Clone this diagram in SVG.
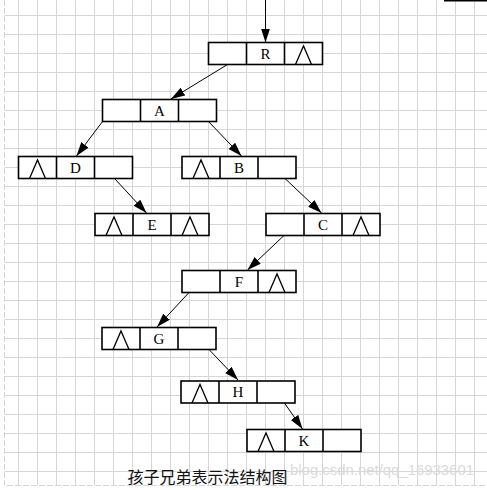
<svg xmlns="http://www.w3.org/2000/svg" width="487" height="490" viewBox="0 0 487 490">
<style>
.grid line{stroke:#d6d6d6;stroke-width:1}
.border{stroke:#d6d6d6;stroke-width:1;stroke-dasharray:6 2;fill:none}
.box rect{fill:#fff;stroke:#000;stroke-width:1.6}
.box line{stroke:#000;stroke-width:1.6}
.box .nil{fill:none;stroke:#000;stroke-width:1.3}
.box text{font-family:"Liberation Serif","DejaVu Serif",serif;font-size:15px;fill:#000;text-anchor:middle}
.edges line{stroke:#000;stroke-width:1;marker-end:url(#arr)}
.caption{font-family:"Noto Sans CJK SC","Noto Sans",sans-serif;font-size:16px;fill:#111}
.wm{font-family:"Liberation Sans",Arial,sans-serif;font-size:15px;fill:#dadada}
</style>
<defs>
<marker id="arr" markerUnits="userSpaceOnUse" markerWidth="16" markerHeight="10" refX="14" refY="4.5" orient="auto">
<path d="M0,0 L14,4.5 L0,9 Z" fill="#000"/>
</marker>
</defs>
<rect width="487" height="490" fill="#fff"/>
<g class="grid">
<line x1="18.5" y1="0" x2="18.5" y2="485"/><line x1="37.5" y1="0" x2="37.5" y2="485"/><line x1="56.5" y1="0" x2="56.5" y2="485"/><line x1="75.5" y1="0" x2="75.5" y2="485"/><line x1="94.5" y1="0" x2="94.5" y2="485"/><line x1="113.5" y1="0" x2="113.5" y2="485"/><line x1="132.5" y1="0" x2="132.5" y2="485"/><line x1="151.5" y1="0" x2="151.5" y2="485"/><line x1="170.5" y1="0" x2="170.5" y2="485"/><line x1="189.5" y1="0" x2="189.5" y2="485"/><line x1="208.5" y1="0" x2="208.5" y2="485"/><line x1="227.5" y1="0" x2="227.5" y2="485"/><line x1="246.5" y1="0" x2="246.5" y2="485"/><line x1="265.5" y1="0" x2="265.5" y2="485"/><line x1="284.5" y1="0" x2="284.5" y2="485"/><line x1="303.5" y1="0" x2="303.5" y2="485"/><line x1="322.5" y1="0" x2="322.5" y2="485"/><line x1="341.5" y1="0" x2="341.5" y2="485"/><line x1="360.5" y1="0" x2="360.5" y2="485"/><line x1="379.5" y1="0" x2="379.5" y2="485"/><line x1="398.5" y1="0" x2="398.5" y2="485"/><line x1="417.5" y1="0" x2="417.5" y2="485"/><line x1="436.5" y1="0" x2="436.5" y2="485"/><line x1="455.5" y1="0" x2="455.5" y2="485"/><line x1="474.5" y1="0" x2="474.5" y2="485"/>
<line x1="4.5" y1="15.5" x2="487" y2="15.5"/><line x1="4.5" y1="34.5" x2="487" y2="34.5"/><line x1="4.5" y1="53.5" x2="487" y2="53.5"/><line x1="4.5" y1="72.5" x2="487" y2="72.5"/><line x1="4.5" y1="91.5" x2="487" y2="91.5"/><line x1="4.5" y1="110.5" x2="487" y2="110.5"/><line x1="4.5" y1="129.5" x2="487" y2="129.5"/><line x1="4.5" y1="148.5" x2="487" y2="148.5"/><line x1="4.5" y1="167.5" x2="487" y2="167.5"/><line x1="4.5" y1="186.5" x2="487" y2="186.5"/><line x1="4.5" y1="205.5" x2="487" y2="205.5"/><line x1="4.5" y1="224.5" x2="487" y2="224.5"/><line x1="4.5" y1="243.5" x2="487" y2="243.5"/><line x1="4.5" y1="262.5" x2="487" y2="262.5"/><line x1="4.5" y1="281.5" x2="487" y2="281.5"/><line x1="4.5" y1="300.5" x2="487" y2="300.5"/><line x1="4.5" y1="319.5" x2="487" y2="319.5"/><line x1="4.5" y1="338.5" x2="487" y2="338.5"/><line x1="4.5" y1="357.5" x2="487" y2="357.5"/><line x1="4.5" y1="376.5" x2="487" y2="376.5"/><line x1="4.5" y1="395.5" x2="487" y2="395.5"/><line x1="4.5" y1="414.5" x2="487" y2="414.5"/><line x1="4.5" y1="433.5" x2="487" y2="433.5"/><line x1="4.5" y1="452.5" x2="487" y2="452.5"/><line x1="4.5" y1="471.5" x2="487" y2="471.5"/>
</g>
<path class="border" d="M4.5,0 V485.5 H487"/>
<line x1="444" y1="0.75" x2="487" y2="0.75" stroke="#000" stroke-width="1.5"/>

<g class="edges">
<line x1="265.5" y1="0" x2="265.5" y2="42.5"/>
<line x1="227.5" y1="64.5" x2="171" y2="99"/>
<line x1="102.5" y1="121.5" x2="76.5" y2="156"/>
<line x1="208.5" y1="121.5" x2="241.5" y2="156"/>
<line x1="114.5" y1="178.5" x2="146.5" y2="213"/>
<line x1="285" y1="178.5" x2="321.5" y2="213"/>
<line x1="284" y1="235.5" x2="247.5" y2="270"/>
<line x1="189" y1="292.5" x2="157" y2="327"/>
<line x1="209" y1="349.5" x2="238" y2="380"/>
<line x1="284.5" y1="403" x2="302.5" y2="429"/>
</g>

<g id="node-R" class="box" transform="translate(208.5,42.5)">
<rect width="114" height="22"/><line x1="38" y1="0" x2="38" y2="22"/><line x1="76" y1="0" x2="76" y2="22"/>
<text x="57" y="16">R</text>
<polyline class="nil" points="87,22 95,3.5 103,22"/>
</g>
<g id="node-A" class="box" transform="translate(102.5,99.5)">
<rect width="114" height="22"/><line x1="38" y1="0" x2="38" y2="22"/><line x1="76" y1="0" x2="76" y2="22"/>
<text x="57" y="16">A</text>
</g>
<g id="node-D" class="box" transform="translate(18.5,156.5)">
<rect width="114" height="22"/><line x1="38" y1="0" x2="38" y2="22"/><line x1="76" y1="0" x2="76" y2="22"/>
<text x="57" y="16">D</text>
<polyline class="nil" points="11,22 19,3.5 27,22"/>
</g>
<g id="node-B" class="box" transform="translate(182,156.5)">
<rect width="114" height="22"/><line x1="38" y1="0" x2="38" y2="22"/><line x1="76" y1="0" x2="76" y2="22"/>
<text x="57" y="16">B</text>
<polyline class="nil" points="11,22 19,3.5 27,22"/>
</g>
<g id="node-E" class="box" transform="translate(95,213.5)">
<rect width="114" height="22"/><line x1="38" y1="0" x2="38" y2="22"/><line x1="76" y1="0" x2="76" y2="22"/>
<text x="57" y="16">E</text>
<polyline class="nil" points="11,22 19,3.5 27,22"/>
<polyline class="nil" points="87,22 95,3.5 103,22"/>
</g>
<g id="node-C" class="box" transform="translate(266,213.5)">
<rect width="114" height="22"/><line x1="38" y1="0" x2="38" y2="22"/><line x1="76" y1="0" x2="76" y2="22"/>
<text x="57" y="16">C</text>
<polyline class="nil" points="87,22 95,3.5 103,22"/>
</g>
<g id="node-F" class="box" transform="translate(182,270.5)">
<rect width="114" height="22"/><line x1="38" y1="0" x2="38" y2="22"/><line x1="76" y1="0" x2="76" y2="22"/>
<text x="57" y="16">F</text>
<polyline class="nil" points="87,22 95,3.5 103,22"/>
</g>
<g id="node-G" class="box" transform="translate(102,327.5)">
<rect width="114" height="22"/><line x1="38" y1="0" x2="38" y2="22"/><line x1="76" y1="0" x2="76" y2="22"/>
<text x="57" y="16">G</text>
<polyline class="nil" points="11,22 19,3.5 27,22"/>
</g>
<g id="node-H" class="box" transform="translate(181,381)">
<rect width="114" height="22"/><line x1="38" y1="0" x2="38" y2="22"/><line x1="76" y1="0" x2="76" y2="22"/>
<text x="57" y="16">H</text>
<polyline class="nil" points="11,22 19,3.5 27,22"/>
</g>
<g id="node-K" class="box" transform="translate(247,429.5)">
<rect width="114" height="22"/><line x1="38" y1="0" x2="38" y2="22"/><line x1="76" y1="0" x2="76" y2="22"/>
<text x="57" y="16">K</text>
<polyline class="nil" points="11,22 19,3.5 27,22"/>
</g>

<text class="caption" x="127.5" y="483">孩子兄弟表示法结构图</text>
<text class="wm" x="290" y="475" textLength="184" lengthAdjust="spacingAndGlyphs">blog.csdn.net/qq_16933601</text>
</svg>
